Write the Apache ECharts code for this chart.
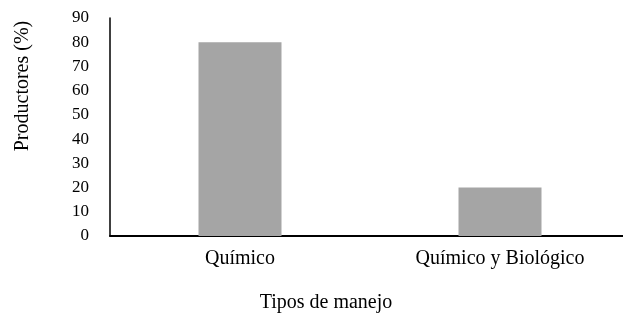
<!DOCTYPE html>
<html><head><meta charset="utf-8">
<script src="https://cdn.jsdelivr.net/npm/echarts@6/dist/echarts.min.js"></script>
<style>html,body{margin:0;padding:0;background:#fff}#c{width:623px;height:317px}</style>
</head><body><div id="c"></div>
<script>
var categories = ["Químico", "Químico y Biológico"];
var values = [80, 20];
var yTicks = [0, 10, 20, 30, 40, 50, 60, 70, 80, 90];
var yTitle = "Productores (%)";
var xTitle = "Tipos de manejo";

var font = "'Liberation Serif', 'Times New Roman', serif";
var chart = echarts.init(document.getElementById('c'), null, {renderer: 'canvas'});
chart.setOption({
  animation: false,
  backgroundColor: '#fff',
  grid: {left: 110, right: -7, top: 18, bottom: 81, outerBoundsMode: 'none', containLabel: false},
  xAxis: {
    type: 'category', data: categories,
    axisLine: {lineStyle: {color: '#000', width: 2}},
    axisTick: {show: false},
    axisLabel: {color: '#000', fontFamily: font, fontSize: 20, margin: 13}
  },
  yAxis: {
    type: 'value', min: yTicks[0], max: yTicks[yTicks.length - 1], interval: 10,
    axisLine: {show: true, lineStyle: {color: '#000', width: 1.5}},
    axisTick: {show: false},
    splitLine: {show: false},
    axisLabel: {color: '#000', fontFamily: font, fontSize: 17, margin: 21}
  },
  series: [{
    type: 'bar', data: values, barWidth: 83,
    itemStyle: {color: '#a5a5a5'}
  }],
  graphic: [
    {type: 'text', x: 23, y: 86, rotation: Math.PI / 2,
     style: {text: yTitle, font: '20px ' + font, fill: '#000', align: 'center', verticalAlign: 'middle'}},
    {type: 'text', x: 326, y: 303,
     style: {text: xTitle, font: '20px ' + font, fill: '#000', align: 'center', verticalAlign: 'middle'}}
  ]
});
</script></body></html>
